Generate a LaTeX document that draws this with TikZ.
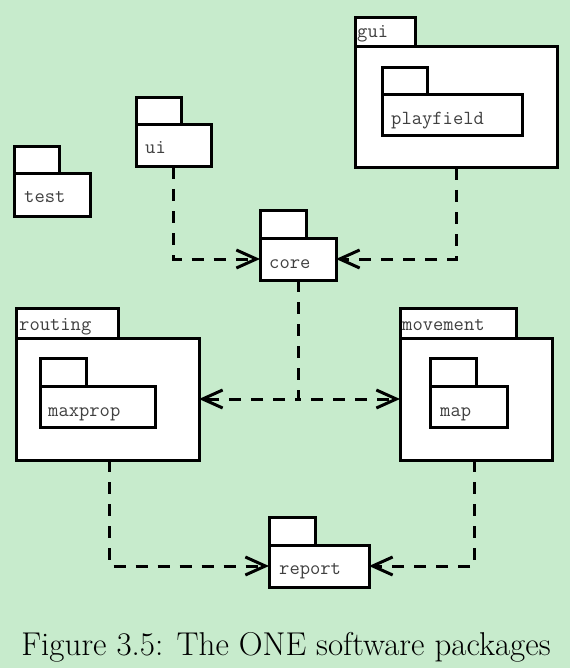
\documentclass[tikz,border=0pt]{standalone}
\usepackage{fontspec}
\usetikzlibrary{arrows.meta}
\definecolor{bggreen}{RGB}{199,235,204}
\tikzset{
  pkg/.style={draw=black, fill=white, line width=3pt, rectangle, inner sep=0pt, outer sep=0pt, anchor=north west},
  lbl/.style={anchor=base west, inner sep=0pt, text=black!75, font=\ttfamily\fontsize{20}{23}\selectfont},
  dep/.style={line width=3pt, dash pattern=on 12pt off 10pt, -{Straight Barb[length=20pt,width=18pt,line width=3pt]}},
}
\begin{document}
\begin{tikzpicture}[x=1pt,y=-1pt]
\fill[bggreen] (0,0) rectangle (570,668);
\useasboundingbox (0,0) rectangle (570,668);
% gui
\node[pkg, minimum width=60pt, minimum height=29pt] (guitab) at (355,18) {};
\node[pkg, minimum width=202pt, minimum height=121pt] (gui) at (355,47) {};
\node[pkg, minimum width=45pt, minimum height=27pt] (playtab) at (382,68) {};
\node[pkg, minimum width=140pt, minimum height=41pt] (playfield) at (382,95) {};
\node[lbl] (guil) at (357,38) {gui};
\node[lbl] (playl) at (391,125) {playfield};
% test
\node[pkg, minimum width=45pt, minimum height=27pt] (testtab) at (14,147) {};
\node[pkg, minimum width=76pt, minimum height=42pt] (test) at (14,174) {};
\node[lbl] (testl) at (24,203) {test};
% ui
\node[pkg, minimum width=45pt, minimum height=27pt] (uitab) at (136,98) {};
\node[pkg, minimum width=75pt, minimum height=42pt] (ui) at (136,125) {};
\node[lbl] (uil) at (145,154) {ui};
% core
\node[pkg, minimum width=46pt, minimum height=28pt] (coretab) at (260,210) {};
\node[pkg, minimum width=76pt, minimum height=42pt] (core) at (260,238) {};
\node[lbl] (corel) at (269,268) {core};
% routing
\node[pkg, minimum width=102pt, minimum height=30pt] (routtab) at (16,308) {};
\node[pkg, minimum width=183pt, minimum height=122pt] (routing) at (16,338) {};
\node[pkg, minimum width=46pt, minimum height=28pt] (maxtab) at (40,358) {};
\node[pkg, minimum width=115pt, minimum height=41pt] (maxprop) at (40,386) {};
\node[lbl] (routl) at (19,330) {routing};
\node[lbl] (maxl) at (48,416) {maxprop};
% movement
\node[pkg, minimum width=116pt, minimum height=30pt] (movtab) at (400,308) {};
\node[pkg, minimum width=152pt, minimum height=122pt] (movement) at (400,338) {};
\node[pkg, minimum width=46pt, minimum height=28pt] (maptab) at (430,358) {};
\node[pkg, minimum width=77pt, minimum height=41pt] (map) at (430,386) {};
\node[lbl] (movl) at (402,330) {movement};
\node[lbl] (mapl) at (440,416) {map};
% report
\node[pkg, minimum width=46pt, minimum height=28pt] (reptab) at (269,517) {};
\node[pkg, minimum width=100pt, minimum height=42pt] (report) at (269,545) {};
\node[lbl] (repl) at (279,574) {report};
% connectors
\draw[dep] (ui.south) |- (core.west);
\draw[dep] (gui.south) |- (core.east);
\draw[dep] (core.south) |- (routing.east);
\draw[dep] (core.south) |- (movement.west);
\draw[dep] ([xshift=2pt]routing.south) |- (report.west);
\draw[dep] ([xshift=-2pt]movement.south) |- (report.east);
% caption
\node[anchor=base, inner sep=0pt, font=\fontsize{33}{40}\selectfont] (cap) at (286,655) {Figure 3.5: The ONE software packages};
\end{tikzpicture}
\end{document}
